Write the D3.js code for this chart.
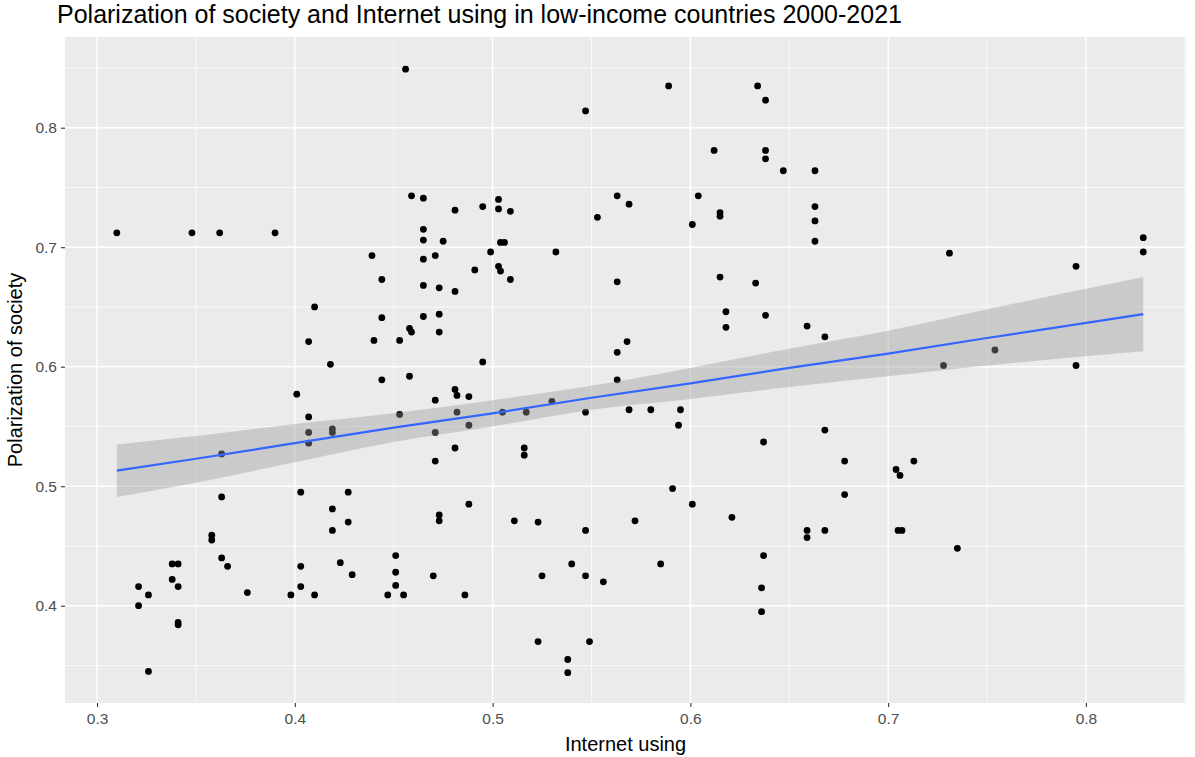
<!DOCTYPE html>
<html>
<head>
<meta charset="utf-8">
<script src="https://cdnjs.cloudflare.com/ajax/libs/d3/7.8.5/d3.min.js"></script>
<style>
  body { margin: 0; background: #fff; }
  text { font-family: "Liberation Sans", Arial, sans-serif; }
</style>
</head>
<body>
<div id="chart"></div>
<script>
// values
const internetUsing = [
  0.310, 0.348, 0.362, 0.390, 0.410, 0.407, 0.418, 0.401, 0.407, 0.407,
  0.407, 0.419, 0.419, 0.363, 0.363, 0.358, 0.358, 0.363, 0.366, 0.376,
  0.338, 0.341, 0.338, 0.341, 0.321, 0.326, 0.321, 0.341, 0.341, 0.326,
  0.403, 0.427, 0.419, 0.427, 0.419, 0.423, 0.429, 0.403, 0.403, 0.398,
  0.410, 0.456, 0.547, 0.459, 0.465, 0.481, 0.495, 0.503, 0.503, 0.509,
  0.465, 0.465, 0.475, 0.504, 0.506, 0.499, 0.532, 0.439, 0.465, 0.471,
  0.491, 0.503, 0.504, 0.444, 0.509, 0.465, 0.473, 0.481, 0.444, 0.465,
  0.473, 0.458, 0.459, 0.473, 0.440, 0.453, 0.495, 0.563, 0.569, 0.553,
  0.563, 0.568, 0.563, 0.444, 0.458, 0.481, 0.482, 0.488, 0.471, 0.453,
  0.482, 0.488, 0.471, 0.481, 0.471, 0.505, 0.517, 0.530, 0.547, 0.563,
  0.569, 0.580, 0.516, 0.516, 0.488, 0.473, 0.473, 0.511, 0.523, 0.547,
  0.572, 0.451, 0.451, 0.451, 0.447, 0.455, 0.470, 0.486, 0.525, 0.540,
  0.547, 0.556, 0.523, 0.549, 0.538, 0.538, 0.589, 0.634, 0.638, 0.612,
  0.638, 0.638, 0.647, 0.663, 0.604, 0.601, 0.615, 0.615, 0.663, 0.663,
  0.663, 0.615, 0.633, 0.618, 0.638, 0.618, 0.659, 0.668, 0.595, 0.594,
  0.637, 0.668, 0.678, 0.704, 0.706, 0.713, 0.678, 0.591, 0.601, 0.621,
  0.659, 0.659, 0.668, 0.705, 0.707, 0.585, 0.637, 0.636, 0.636, 0.731,
  0.795, 0.829, 0.829, 0.754, 0.728, 0.795, 0.735
];
const polarization = [
  0.712, 0.712, 0.712, 0.712, 0.650, 0.621, 0.602, 0.577, 0.558, 0.545,
  0.536, 0.548, 0.545, 0.527, 0.491, 0.459, 0.455, 0.440, 0.433, 0.411,
  0.435, 0.435, 0.422, 0.416, 0.416, 0.409, 0.400, 0.386, 0.384, 0.345,
  0.495, 0.495, 0.481, 0.470, 0.463, 0.436, 0.426, 0.433, 0.416, 0.409,
  0.409, 0.849, 0.814, 0.743, 0.741, 0.731, 0.734, 0.740, 0.732, 0.730,
  0.715, 0.706, 0.705, 0.704, 0.704, 0.696, 0.696, 0.693, 0.690, 0.693,
  0.681, 0.684, 0.680, 0.673, 0.673, 0.668, 0.666, 0.663, 0.641, 0.642,
  0.644, 0.632, 0.629, 0.629, 0.622, 0.622, 0.604, 0.743, 0.736, 0.725,
  0.671, 0.621, 0.612, 0.589, 0.592, 0.581, 0.576, 0.575, 0.572, 0.560,
  0.562, 0.551, 0.545, 0.532, 0.521, 0.562, 0.562, 0.571, 0.562, 0.589,
  0.564, 0.564, 0.532, 0.526, 0.485, 0.476, 0.471, 0.471, 0.470, 0.463,
  0.471, 0.442, 0.428, 0.417, 0.409, 0.409, 0.425, 0.409, 0.425, 0.435,
  0.425, 0.420, 0.370, 0.370, 0.355, 0.344, 0.835, 0.835, 0.823, 0.781,
  0.781, 0.774, 0.764, 0.764, 0.743, 0.719, 0.729, 0.726, 0.734, 0.722,
  0.705, 0.675, 0.670, 0.646, 0.643, 0.633, 0.634, 0.625, 0.564, 0.551,
  0.537, 0.547, 0.521, 0.514, 0.509, 0.521, 0.493, 0.498, 0.485, 0.474,
  0.463, 0.457, 0.463, 0.463, 0.463, 0.435, 0.442, 0.415, 0.395, 0.695,
  0.684, 0.708, 0.696, 0.614, 0.601, 0.601, 0.448
];

// lm smoother and its 95% band
const smoothX  = [0.310, 0.350, 0.400, 0.450, 0.500, 0.550, 0.600, 0.650, 0.700, 0.750, 0.829];
const smoothY  = [0.513, 0.523, 0.536, 0.549, 0.561, 0.574, 0.586, 0.599, 0.611, 0.624, 0.644];
const smoothLo = [0.491, 0.503, 0.520, 0.537, 0.550, 0.564, 0.573, 0.583, 0.592, 0.601, 0.613];
const smoothHi = [0.535, 0.542, 0.552, 0.561, 0.572, 0.584, 0.599, 0.615, 0.630, 0.648, 0.675];

const xTicks = [0.3, 0.4, 0.5, 0.6, 0.7, 0.8];
const yTicks = [0.4, 0.5, 0.6, 0.7, 0.8];
const xMinor = [0.35, 0.45, 0.55, 0.65, 0.75, 0.85];
const yMinor = [0.35, 0.45, 0.55, 0.65, 0.75, 0.85];

const width = 1195, height = 757;
const margin = {top: 37, right: 9, bottom: 54, left: 65};

const svg = d3.select("#chart")
    .append("svg")
    .attr("width", width)
    .attr("height", height);

svg.append("rect").attr("width", width).attr("height", height).attr("fill", "#fff");

const x = d3.scaleLinear()
    .domain([0.2838, 0.8506])
    .range([margin.left, width - margin.right]);
const y = d3.scaleLinear()
    .domain([0.3186, 0.8759])
    .range([height - margin.bottom, margin.top]);

// panel
svg.append("rect")
    .attr("x", margin.left)
    .attr("y", margin.top)
    .attr("width", width - margin.left - margin.right)
    .attr("height", height - margin.top - margin.bottom)
    .attr("fill", "#EBEBEB");

const grid = svg.append("g");
grid.selectAll(".xminor").data(xMinor).enter().append("line")
    .attr("x1", d => x(d)).attr("x2", d => x(d))
    .attr("y1", margin.top).attr("y2", height - margin.bottom)
    .attr("stroke", "#fff").attr("stroke-width", 0.7);
grid.selectAll(".yminor").data(yMinor).enter().append("line")
    .attr("x1", margin.left).attr("x2", width - margin.right)
    .attr("y1", d => y(d)).attr("y2", d => y(d))
    .attr("stroke", "#fff").attr("stroke-width", 0.7);
grid.selectAll(".xmajor").data(xTicks).enter().append("line")
    .attr("x1", d => x(d)).attr("x2", d => x(d))
    .attr("y1", margin.top).attr("y2", height - margin.bottom)
    .attr("stroke", "#fff").attr("stroke-width", 1.4);
grid.selectAll(".ymajor").data(yTicks).enter().append("line")
    .attr("x1", margin.left).attr("x2", width - margin.right)
    .attr("y1", d => y(d)).attr("y2", d => y(d))
    .attr("stroke", "#fff").attr("stroke-width", 1.4);

// points
const pts = internetUsing.map((d, i) => ({x: d, y: polarization[i]}));
svg.append("g").selectAll("circle")
    .data(pts)
    .enter().append("circle")
    .attr("cx", d => x(d.x))
    .attr("cy", d => y(d.y))
    .attr("r", 3.4)
    .attr("fill", "#000");

// smoother
const fit = smoothX.map((d, i) => ({x: d, y: smoothY[i], lo: smoothLo[i], hi: smoothHi[i]}));

svg.append("path")
    .datum(fit)
    .attr("d", d3.area().curve(d3.curveMonotoneX).x(d => x(d.x)).y0(d => y(d.lo)).y1(d => y(d.hi)))
    .attr("fill", "#999999")
    .attr("fill-opacity", 0.4);

svg.append("path")
    .datum(fit)
    .attr("d", d3.line().x(d => x(d.x)).y(d => y(d.y)))
    .attr("fill", "none")
    .attr("stroke", "#3366FF")
    .attr("stroke-width", 2.2);

// axes
const xAxis = svg.append("g")
    .attr("transform", `translate(0,${height - margin.bottom})`)
    .call(d3.axisBottom(x).tickValues(xTicks).tickSize(4).tickPadding(6).tickFormat(d3.format(".1f")));
const yAxis = svg.append("g")
    .attr("transform", `translate(${margin.left},0)`)
    .call(d3.axisLeft(y).tickValues(yTicks).tickSize(4).tickPadding(4).tickFormat(d3.format(".1f")));
[xAxis, yAxis].forEach(g => {
  g.select(".domain").remove();
  g.selectAll(".tick line").attr("stroke", "#333333").attr("stroke-width", 1.1);
  g.selectAll(".tick text")
      .attr("fill", "#4D4D4D")
      .style("font-size", "15.5px")
      .style("font-family", "'Liberation Sans', Arial, sans-serif");
});

// titles
svg.append("text")
    .attr("x", 57)
    .attr("y", 23)
    .attr("font-size", 25)
    .attr("fill", "#000")
    .text("Polarization of society and Internet using in low-income countries 2000-2021");

svg.append("text")
    .attr("x", (margin.left + width - margin.right) / 2)
    .attr("y", 751)
    .attr("text-anchor", "middle")
    .attr("font-size", 20)
    .attr("fill", "#000")
    .text("Internet using");

svg.append("text")
    .attr("transform", `translate(22,${(margin.top + height - margin.bottom) / 2}) rotate(-90)`)
    .attr("text-anchor", "middle")
    .attr("font-size", 20)
    .attr("fill", "#000")
    .text("Polarization of society");
</script>
</body>
</html>
